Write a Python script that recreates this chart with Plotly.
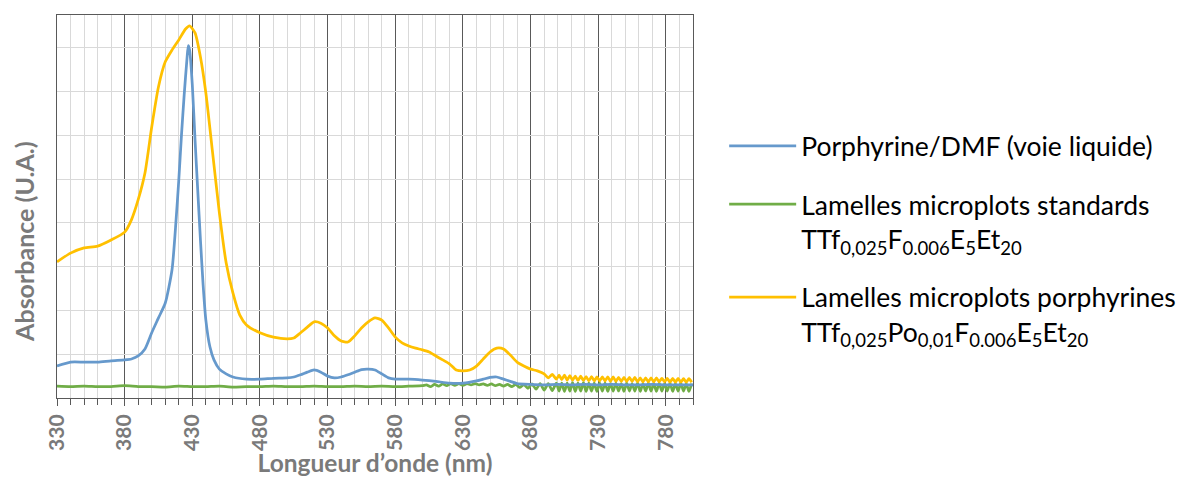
import plotly.graph_objects as go

# Porphyrine/DMF (voie liquide)
wl_dmf = [330, 340, 350, 360, 370, 380, 385, 390, 395, 400, 405, 410, 415, 418, 420, 422, 424,
          426, 427, 428, 430, 432, 434, 436, 438, 440, 443, 446, 450, 455, 460, 470, 480, 490,
          500, 505, 510, 515, 520, 525, 530, 535, 540, 545, 550, 555, 560, 565, 570, 575, 580,
          590, 600, 610, 620, 630, 640, 645, 650, 655, 660, 665, 670, 680, 690, 700, 710, 720,
          730, 740, 750, 760, 770, 780, 790, 800]
abs_dmf = [0.073, 0.082, 0.082, 0.082, 0.085, 0.087, 0.089, 0.096, 0.112, 0.149, 0.183, 0.217,
           0.293, 0.407, 0.498, 0.601, 0.693, 0.773, 0.805, 0.795, 0.715, 0.590, 0.475, 0.361,
           0.258, 0.178, 0.117, 0.087, 0.066, 0.055, 0.048, 0.043, 0.043, 0.045, 0.046, 0.048,
           0.053, 0.059, 0.064, 0.059, 0.050, 0.046, 0.048, 0.053, 0.059, 0.065, 0.066, 0.064,
           0.055, 0.046, 0.043, 0.043, 0.041, 0.038, 0.034, 0.034, 0.039, 0.043, 0.047, 0.048,
           0.043, 0.038, 0.033, 0.031, 0.030, 0.031, 0.030, 0.031, 0.030, 0.031, 0.030, 0.030,
           0.031, 0.030, 0.030, 0.030]

# Lamelles microplots standards
wl_std = [330, 340, 350, 360, 370, 380, 390, 400, 410, 420, 430, 440, 450, 460, 470, 480, 490,
          500, 510, 520, 530, 540, 550, 560, 570, 580, 590, 600,
          603, 606, 609, 612, 615, 618, 621, 624, 627, 630, 633, 636, 639, 642, 645, 648, 651,
          654, 657, 660, 663, 666, 669, 672, 675, 678, 681, 684, 687, 690, 693, 696, 699,
          701, 703, 705, 707, 709, 711, 713, 715, 717, 719, 721, 723, 725, 727, 729, 731, 733,
          735, 737, 739, 741, 743, 745, 747, 749, 751, 753, 755, 757, 759, 761, 763, 765, 767,
          769, 771, 773, 775, 777, 779, 781, 783, 785, 787, 789, 791, 793, 795, 797, 799]
abs_std = [0.027, 0.026, 0.027, 0.026, 0.026, 0.028, 0.026, 0.026, 0.025, 0.027, 0.026, 0.026,
           0.027, 0.025, 0.026, 0.026, 0.027, 0.026, 0.026, 0.027, 0.026, 0.026, 0.027, 0.026,
           0.027, 0.026, 0.027, 0.028,
           0.030, 0.026, 0.031, 0.027, 0.032, 0.028, 0.033, 0.029, 0.033, 0.029, 0.033, 0.030,
           0.033, 0.030, 0.032, 0.029, 0.032, 0.028, 0.031, 0.027, 0.031, 0.026, 0.031, 0.024,
           0.031, 0.022, 0.032, 0.020, 0.033, 0.018, 0.033, 0.017, 0.034,
           0.016, 0.034, 0.015, 0.034, 0.016, 0.035, 0.015, 0.034, 0.016, 0.035, 0.015, 0.034,
           0.016, 0.034, 0.015, 0.034, 0.016, 0.034, 0.015, 0.033, 0.016, 0.034, 0.016, 0.033,
           0.015, 0.034, 0.016, 0.033, 0.016, 0.034, 0.015, 0.033, 0.016, 0.034, 0.016, 0.033,
           0.015, 0.034, 0.016, 0.033, 0.016, 0.034, 0.015, 0.033, 0.016, 0.034, 0.016, 0.033,
           0.015, 0.033]

# Lamelles microplots porphyrines
wl_por = [330, 340, 350, 360, 370, 380, 385, 390, 395, 400, 405, 410, 415, 420, 425, 428, 432,
          436, 440, 445, 450, 455, 460, 465, 470, 480, 490, 500, 505, 510, 515, 520, 525, 530,
          535, 540, 545, 550, 555, 560, 565, 570, 575, 580, 585, 590, 595, 600, 605, 610, 615,
          620, 625, 630, 635, 640, 645, 650, 655, 660, 665, 670, 675, 680, 685, 690,
          693, 696, 699,
          701, 703, 705, 707, 709, 711, 713, 715, 717, 719, 721, 723, 725, 727, 729, 731, 733,
          735, 737, 739, 741, 743, 745, 747, 749, 751, 753, 755, 757, 759, 761, 763, 765, 767,
          769, 771, 773, 775, 777, 779, 781, 783, 785, 787, 789, 791, 793, 795, 797, 799]
abs_por = [0.311, 0.331, 0.343, 0.347, 0.361, 0.379, 0.407, 0.453, 0.514, 0.619, 0.711, 0.768,
           0.795, 0.818, 0.843, 0.850, 0.834, 0.779, 0.697, 0.560, 0.423, 0.309, 0.240, 0.190,
           0.167, 0.149, 0.139, 0.135, 0.137, 0.149, 0.162, 0.174, 0.171, 0.160, 0.142, 0.130,
           0.128, 0.142, 0.160, 0.174, 0.183, 0.178, 0.160, 0.139, 0.126, 0.119, 0.114, 0.110,
           0.105, 0.096, 0.087, 0.078, 0.064, 0.062, 0.064, 0.073, 0.089, 0.105, 0.114, 0.112,
           0.098, 0.082, 0.073, 0.066, 0.062, 0.055,
           0.046, 0.054, 0.043,
           0.052, 0.042, 0.052, 0.041, 0.051, 0.041, 0.050, 0.040, 0.050, 0.040, 0.049, 0.039,
           0.049, 0.039, 0.048, 0.039, 0.048, 0.039, 0.048, 0.038, 0.048, 0.038, 0.047, 0.038,
           0.047, 0.038, 0.047, 0.038, 0.047, 0.037, 0.046, 0.037, 0.046, 0.037, 0.046, 0.037,
           0.046, 0.037, 0.045, 0.037, 0.045, 0.036, 0.045, 0.036, 0.045, 0.036, 0.044, 0.036,
           0.044, 0.036]

names = ['Porphyrine/DMF (voie liquide)',
         'Lamelles microplots standards<br>TTf<sub>0,025</sub>F<sub>0.006</sub>E<sub>5</sub>Et<sub>20</sub>',
         'Lamelles microplots porphyrines<br>TTf<sub>0,025</sub>Po<sub>0,01</sub>F<sub>0.006</sub>E<sub>5</sub>Et<sub>20</sub>']
colors = ['#6699CC', '#70AD47', '#FFC000']

gray = '#7a7a7a'
axis_gray = '#595959'
font_face = 'Lato'

fig = go.Figure()
# draw order: green, yellow, blue (blue on top); legend order kept by legendrank
fig.add_trace(go.Scatter(x=wl_std, y=abs_std, mode='lines', name=names[1], legendrank=2,
                         legendgroup='b', line=dict(color=colors[1], width=2.75, shape='spline', smoothing=0.6)))
fig.add_trace(go.Scatter(x=wl_por, y=abs_por, mode='lines', name=names[2], legendrank=3,
                         legendgroup='c', line=dict(color=colors[2], width=2.75, shape='spline', smoothing=0.6)))
fig.add_trace(go.Scatter(x=wl_dmf, y=abs_dmf, mode='lines', name=names[0], legendrank=1,
                         legendgroup='a', line=dict(color=colors[0], width=2.75, shape='spline', smoothing=0.6)))

fig.update_layout(
    width=1186, height=477,
    margin=dict(l=57, r=493, t=15, b=79, autoexpand=False),
    plot_bgcolor='white', paper_bgcolor='white',
    showlegend=True,
    legend=dict(x=1.049, xanchor='left', y=0.415, yanchor='middle', valign='top',
                font=dict(family=font_face, size=26.5, color='black'),
                tracegroupgap=21, itemwidth=67, bgcolor='rgba(0,0,0,0)'),
    xaxis=dict(range=[330, 800], tick0=330, dtick=50, showgrid=True, gridcolor=axis_gray, gridwidth=1,
               ticks='outside', ticklen=7, tickcolor=axis_gray, tickangle=-90, automargin=False,
               tickfont=dict(family=font_face, size=21, color=gray, weight='bold'),
               showline=True, linecolor=axis_gray, linewidth=1, mirror=True, zeroline=False,
               minor=dict(tick0=330, dtick=10, showgrid=True, gridcolor='#d9d9d9', gridwidth=1,
                          ticks='outside', ticklen=6, tickcolor=axis_gray),
               title=dict(text='Longueur d’onde (nm)', standoff=11,
                          font=dict(family=font_face, size=24.5, color=gray, weight='bold'))),
    yaxis=dict(range=[0, 0.875], dtick=0.1, showticklabels=False, showgrid=True, gridcolor='#d9d9d9',
               gridwidth=1, showline=True, linecolor=axis_gray, linewidth=1, mirror=True,
               zeroline=False, ticks='', automargin=False),
    annotations=[dict(text='Absorbance (U.A.)', xref='paper', yref='paper', x=-0.052, y=0.41,
                      textangle=-90, showarrow=False, xanchor='center', yanchor='middle',
                      font=dict(family=font_face, size=25, color=gray, weight='bold'))],
)

# the page body has a default 8px margin; remove it so the figure fills the window
fig.write_html('out.html', config={'displayModeBar': False},
               post_script="document.body.style.margin='0px';")
